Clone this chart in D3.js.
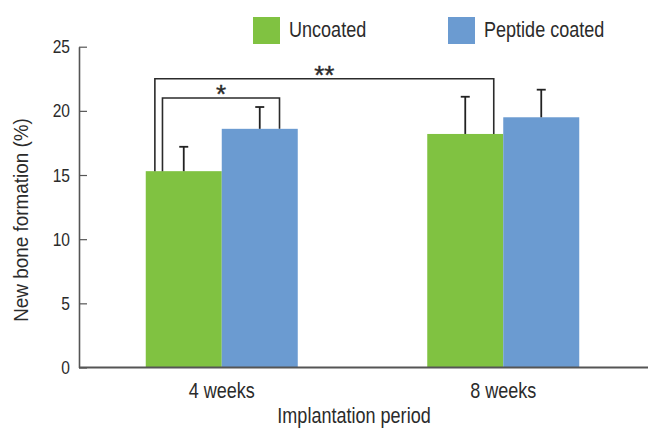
<!DOCTYPE html>
<html>
<head>
<meta charset="utf-8">
<script src="https://cdn.jsdelivr.net/npm/d3@7"></script>
<style>
  html, body { margin: 0; padding: 0; background: #fff; }
  svg { display: block; font-family: "Liberation Sans", Arial, sans-serif; }
</style>
</head>
<body>
<svg id="chart" width="648" height="429"></svg>
<script>
// ---- data ----
const periods = ["4 weeks", "8 weeks"];
const seriesNames = ["Uncoated", "Peptide coated"];
const uncoatedMeans = [15.3, 18.2];
const uncoatedSD = [1.9, 2.9];
const peptideMeans = [18.6, 19.5];
const peptideSD = [1.7, 2.15];
const yTicks = [0, 5, 10, 15, 20, 25];
const comparisons = [
  { a: ["4 weeks", "Uncoated"], b: ["4 weeks", "Peptide coated"], level: 21.0, label: "*" },
  { a: ["4 weeks", "Uncoated"], b: ["8 weeks", "Uncoated"], level: 22.5, label: "**" }
];
const colors = ["#80c241", "#6b9bd1"];

// ---- build ----
const data = [];
periods.forEach((p, i) => {
  data.push({ period: p, series: seriesNames[0], value: uncoatedMeans[i], sd: uncoatedSD[i] });
  data.push({ period: p, series: seriesNames[1], value: peptideMeans[i], sd: peptideSD[i] });
});
const lookup = (p, s) => data.find(d => d.period === p && d.series === s);

const svg = d3.select("#chart");
const axisLeftX = 79, axisRightX = 648;
const y = d3.scaleLinear().domain([0, 25]).range([367.5, 46.7]);
const x0 = d3.scaleBand().domain(periods).range([81, 644]).paddingInner(0).paddingOuter(0);
const barW = 76;
const x1 = d3.scaleBand().domain(seriesNames)
  .range([x0.bandwidth() / 2 - barW, x0.bandwidth() / 2 + barW]).padding(0);
const color = d3.scaleOrdinal().domain(seriesNames).range(colors);
const textColor = "#2b2b2b";
const SX = 0.82; // horizontal condensing to mimic a narrow font

// condensed text helper
function ctext(parent, x, y, str, size, anchor, rot, sx) {
  const g = parent.append("g").attr("transform", `translate(${x},${y})` + (rot ? ` rotate(${rot})` : "") + ` scale(${sx || SX},1)`);
  return g.append("text").attr("text-anchor", anchor || "start").attr("font-size", size).attr("fill", textColor).text(str);
}

// bars
svg.append("g").selectAll("rect").data(data).join("rect")
  .attr("x", d => x0(d.period) + x1(d.series))
  .attr("y", d => y(d.value))
  .attr("width", x1.bandwidth())
  .attr("height", d => y(0) - y(d.value))
  .attr("fill", d => color(d.series));

// error bars
const eb = svg.append("g").attr("stroke", "#222").attr("stroke-width", 1.8);
data.forEach(d => {
  const cx = x0(d.period) + x1(d.series) + x1.bandwidth() / 2;
  eb.append("line").attr("x1", cx).attr("x2", cx).attr("y1", y(d.value)).attr("y2", y(d.value + d.sd));
  eb.append("line").attr("x1", cx - 4.5).attr("x2", cx + 4.5).attr("y1", y(d.value + d.sd)).attr("y2", y(d.value + d.sd));
});

// significance brackets
const offsets = [[0.22, 0.76], [0.12, 0.875]];
const br = svg.append("g");
comparisons.forEach((c, i) => {
  const da = lookup(c.a[0], c.a[1]), db = lookup(c.b[0], c.b[1]);
  const xa = x0(da.period) + x1(da.series) + x1.bandwidth() * offsets[i][0];
  const xb = x0(db.period) + x1(db.series) + x1.bandwidth() * offsets[i][1];
  const yl = y(c.level);
  br.append("path")
    .attr("d", `M${xa},${y(da.value)}V${yl}H${xb}V${y(db.value)}`)
    .attr("fill", "none").attr("stroke", "#2b2b2b").attr("stroke-width", 1.6);
  ctext(br, (xa + xb) / 2, yl + 5, c.label, 26, "middle", 0, 1)
    .attr("stroke", textColor).attr("stroke-width", 0.4);
});

// y axis
const yAxis = d3.axisLeft(y).tickValues(yTicks).tickSizeInner(-8).tickSizeOuter(0).tickPadding(9);
const gy = svg.append("g").attr("transform", `translate(${axisLeftX},0)`).call(yAxis);
gy.select(".domain").attr("stroke", "#555").attr("stroke-width", 1.6);
gy.selectAll(".tick line").attr("stroke", "#555").attr("stroke-width", 1.2);
gy.selectAll(".tick text").attr("font-size", 19).attr("fill", textColor).attr("font-family", null)
  .attr("x", -9 / SX).attr("transform", `scale(${SX},1)`);

// x axis
const xAxis = d3.axisBottom(x0).tickSize(0).tickPadding(15);
const gx = svg.append("g").attr("transform", `translate(0,${y(0)})`).call(xAxis);
gx.select(".domain").remove();
gx.selectAll(".tick text").attr("font-size", 22).attr("fill", textColor).attr("font-family", null)
  .attr("transform", `scale(${SX},1)`);
svg.append("line").attr("x1", axisLeftX).attr("x2", axisRightX)
  .attr("y1", y(0)).attr("y2", y(0)).attr("stroke", "#555").attr("stroke-width", 1.8);

// axis titles
ctext(svg, 354, 423, "Implantation period", 22, "middle");
ctext(svg, 28, 220, "New bone formation (%)", 21, "middle", -90, 0.9);

// legend
const legX = [253, 448];
const lg = svg.append("g");
seriesNames.forEach((s, i) => {
  lg.append("rect").attr("x", legX[i]).attr("y", 17).attr("width", 27).attr("height", 27).attr("fill", color(s));
  ctext(lg, legX[i] + 36, 37, s, 22, "start");
});
</script>
</body>
</html>
